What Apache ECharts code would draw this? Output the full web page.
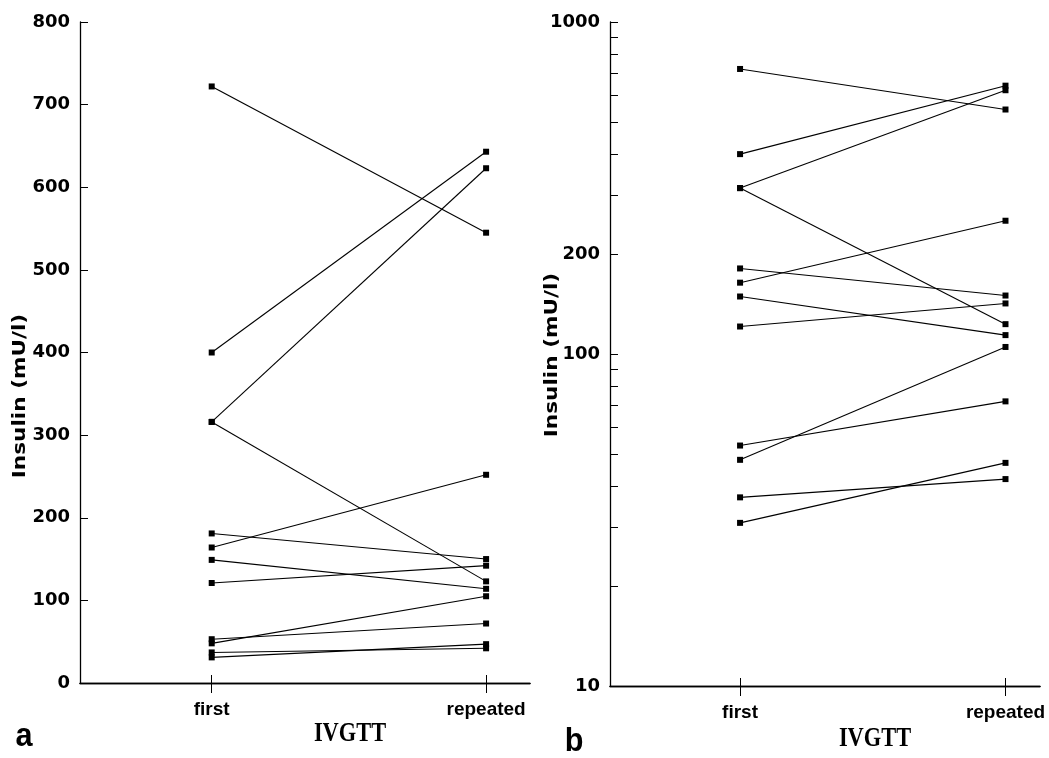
<!DOCTYPE html>
<html>
<head>
<meta charset="utf-8">
<script src="https://cdn.jsdelivr.net/npm/echarts@6/dist/echarts.min.js"></script>
<style>
  html, body { margin: 0; padding: 0; background: #fff; }
  #chart { width: 1049px; height: 758px; }
</style>
</head>
<body>
<div id="chart"></div>
<script>
// IVGTT categories
const categories = ['first', 'repeated'];
// insulin (mU/l) per subject, first and repeated test
const firstValues = [722, 400, 316, 316, 181, 164, 149, 121, 53, 48, 37, 31];
const repeatedValues = [545, 643, 623, 123, 150, 252, 114, 142, 72, 105, 42, 47];
// tick values
const logTicks = [10, 20, 30, 40, 50, 60, 70, 80, 90, 100, 200, 300, 400, 500, 600, 700, 800, 900, 1000];
const logLabels = [10, 100, 200, 1000];

const chart = echarts.init(document.getElementById('chart'));

const numFont = { color: '#000', fontFamily: 'DejaVu Sans', fontWeight: 'bold', fontSize: 18 };
const catFont = { color: '#000', fontFamily: 'Liberation Sans', fontWeight: 'bold', fontSize: 19 };

function xAxes(gridIndex, inside) {
  return {
    type: 'value',
    gridIndex: gridIndex,
    position: 'bottom',
    min: gridIndex === 0 ? 0.52 : 0.51,
    max: gridIndex === 0 ? 2.16 : 2.13,
    splitLine: { show: false },
    axisLine: { show: true, onZero: false, lineStyle: { color: '#000', width: 1.3 } },
    axisTick: { show: true, inside: inside, length: inside ? 8 : 10, customValues: [1, 2], lineStyle: { color: '#000' } },
    axisLabel: {
      show: !inside,
      customValues: [1, 2],
      formatter: v => categories[Math.round(v) - 1],
      margin: 17,
      ...catFont
    }
  };
}

const series = [];
firstValues.forEach((f, i) => {
  [0, 1].forEach(g => {
    series.push({
      type: 'line',
      xAxisIndex: g * 2,
      yAxisIndex: g,
      data: [[1, f], [2, repeatedValues[i]]],
      symbol: 'rect',
      symbolSize: 6,
      showSymbol: true,
      itemStyle: { color: '#000' },
      lineStyle: { color: '#000', width: 1.1 },
      animation: false,
      silent: true
    });
  });
});

const option = {
  backgroundColor: '#fff',
  animation: false,
  grid: [
    { left: 80, top: 22, width: 450, height: 661 },
    { left: 610, top: 22, width: 430, height: 664 }
  ],
  xAxis: [xAxes(0, false), xAxes(0, true), xAxes(1, false), xAxes(1, true)],
  yAxis: [
    {
      type: 'value',
      gridIndex: 0,
      min: 0, max: 800, interval: 100,
      splitLine: { show: false },
      axisLine: { show: true, lineStyle: { color: '#000', width: 1.3 } },
      axisTick: { show: true, inside: true, length: 8, lineStyle: { color: '#000' } },
      axisLabel: { margin: 10, ...numFont }
    },
    {
      type: 'log',
      logBase: 10,
      gridIndex: 1,
      min: 10, max: 1000,
      splitLine: { show: false },
      axisLine: { show: true, lineStyle: { color: '#000', width: 1.3 } },
      axisTick: { show: true, inside: true, length: 8, customValues: logTicks, lineStyle: { color: '#000' } },
      axisLabel: { margin: 10, customValues: logLabels, formatter: v => String(Math.round(v)), ...numFont }
    }
  ],
  graphic: [
    { type: 'text', x: 20, y: 396, rotation: Math.PI / 2, scaleX: 1.2,
      style: { text: 'Insulin (mU/l)', fill: '#000', font: 'bold 18px "DejaVu Sans"', align: 'center', verticalAlign: 'middle' } },
    { type: 'text', x: 552, y: 355, rotation: Math.PI / 2, scaleX: 1.2,
      style: { text: 'Insulin (mU/l)', fill: '#000', font: 'bold 18px "DejaVu Sans"', align: 'center', verticalAlign: 'middle' } },
    { type: 'text', x: 350, y: 734, scaleX: 0.8,
      style: { text: 'IVGTT', fill: '#000', font: 'bold 28px "Liberation Serif"', align: 'center', verticalAlign: 'middle' } },
    { type: 'text', x: 875, y: 739, scaleX: 0.8,
      style: { text: 'IVGTT', fill: '#000', font: 'bold 28px "Liberation Serif"', align: 'center', verticalAlign: 'middle' } },
    { type: 'text', x: 24, y: 737, scaleX: 0.9,
      style: { text: 'a', fill: '#000', font: 'bold 34px "Liberation Sans"', align: 'center', verticalAlign: 'middle' } },
    { type: 'text', x: 574, y: 742, scaleX: 0.9,
      style: { text: 'b', fill: '#000', font: 'bold 34px "Liberation Sans"', align: 'center', verticalAlign: 'middle' } }
  ],
  series: series
};

chart.setOption(option);
</script>
</body>
</html>
